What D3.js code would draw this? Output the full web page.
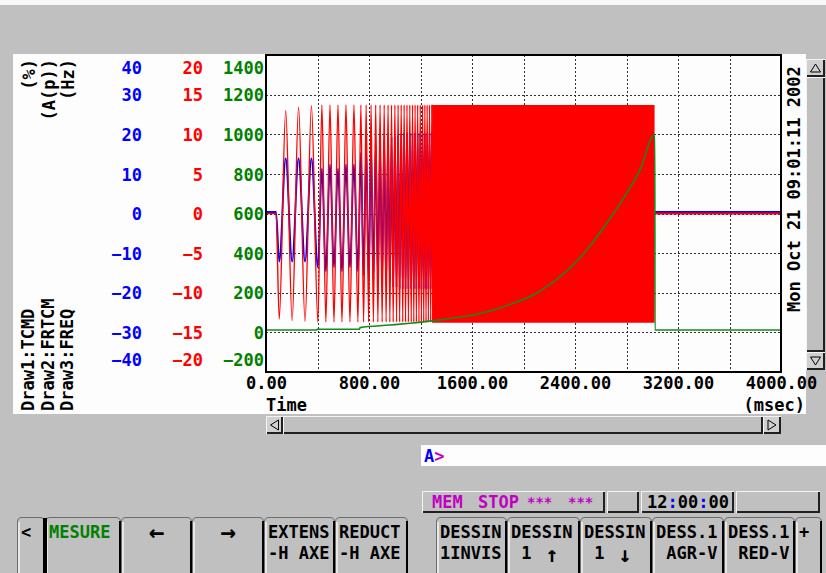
<!DOCTYPE html>
<html>
<head>
<meta charset="utf-8">
<script src="https://cdn.jsdelivr.net/npm/d3@7"></script>
<style>
  html, body { margin: 0; padding: 0; background: #c0c0c0; }
  svg { display: block; }
  text { font-family: "DejaVu Sans Mono", monospace; font-weight: bold; white-space: pre; }
</style>
</head>
<body>
<svg id="screen" width="826" height="573"></svg>
<script>
// ---------------- chart values ----------------
const timeTicks  = [0, 800, 1600, 2400, 3200, 4000];          // msec
const tcmdTicks  = [-40, -30, -20, -10, 0, 10, 20, 30, 40];    // %
const frtcmTicks = [-20, -15, -10, -5, 0, 5, 10, 15, 20];      // A(p)
const freqTicks  = [-200, 0, 200, 400, 600, 800, 1000, 1200, 1400]; // Hz
const channelNames = ["Draw1:TCMD", "Draw2:FRTCM", "Draw3:FREQ"];
const channelUnits = ["(%)", "(A(p))", "(Hz)"];
const stampText = "Mon Oct 21 09:01:11 2002";

// Draw3: sweep frequency (msec, Hz)
const freqTime = [0, 394, 398, 726, 730, 963, 1118, 1351, 1481, 1610, 1765, 1921, 2076, 2180, 2283, 2491, 2646, 2801, 2905, 3020, 3021, 4000];
const freqHz   = [12, 12, 16, 16, 24, 37, 46, 63, 76, 88, 113, 147, 189, 231, 280, 416, 551, 702, 820, 1000, 12, 12];

// Draw1 / Draw2: oscillation turning points while the cycles are still resolved (msec)
const cycleTime = [103, 153, 203, 253, 303, 353, 403, 434, 465, 497, 528, 559, 590, 621, 652, 683, 714,
  737, 758, 778, 797, 816, 834, 852, 869, 886, 902, 918, 933, 948, 962, 975, 988, 1001,
  1014, 1026, 1038, 1050, 1062, 1073, 1084, 1095, 1106, 1117, 1128, 1138, 1148, 1158, 1168, 1178,
  1188, 1198, 1207, 1216, 1225, 1234, 1243, 1252, 1261, 1270, 1279, 1288, 1297];
const tcmdPeak = [-12.5, 13.5, -12.5, 13.5, -12.5, 13.5,
  -14, 11, -15, 12, -14, 11, -15, 12, -14, 12, -15,
  15, -16, 16, -17, 16, -17, 17, -17, 17, -18, 18, -18, 18, -18, 19, -19, 19,
  -19, 19.5, -19.5, 20, -19.5, 20, -19.5, 20, -19.5, 20, -19.5, 20, -19.5, 20, -19.5, 20,
  -19.5, 20, -19.5, 20, -19.5, 20, -19.5, 20, -19.5, 20, -19.5, 20, -19.5];
const frtcmPeak = [-13.3, 13.0, -13.5, 13.4, -13.6, 13.6,
  -13.7, 13.7, -13.7, 13.7, -13.7, 13.7, -13.7, 13.7, -13.7, 13.7, -13.7,
  13.7, -13.7, 13.7, -13.7, 13.7, -13.7, 13.7, -13.7, 13.7, -13.7, 13.7, -13.7, 13.7, -13.7, 13.7, -13.7, 13.7,
  -13.7, 13.7, -13.7, 13.7, -13.7, 13.7, -13.7, 13.7, -13.7, 13.7, -13.7, 13.7, -13.7, 13.7, -13.7, 13.7,
  -13.7, 13.7, -13.7, 13.7, -13.7, 13.7, -13.7, 13.7, -13.7, 13.7, -13.7, 13.7, -13.7];
// quiet segments before and after the sweep (msec)
const sweepStart = 78, sweepEnd = 3018, recordEnd = 4000;
// Draw2 saturated band once the cycles merge (msec, A(p))
const bandTime = [1290, 3018];
const bandMax  = [13.7, 13.7];
const bandMin  = [-13.8, -13.8];

// soft keys
const leftKeys  = [["<"], ["MESURE"], ["←"], ["→"], ["EXTENS", "-H AXE"], ["REDUCT", "-H AXE"]];
const rightKeys = [["DESSIN", "1INVIS"], ["DESSIN", " 1 ↑"], ["DESSIN", " 1 ↓"], ["DESS.1", " AGR-V"], ["DESS.1", " RED-V"], ["+"]];

// ---------------- layout ----------------
const W = 826, H = 573;
const P = { l: 266, r: 781, t: 55, b: 372 };
const FONT = 17;
const CHAR = FONT * 0.602;
const leftKeyEdges  = [17, 45, 121, 192, 264, 335, 408];
const rightKeyEdges = [436, 507, 580, 652, 724, 795, 822];

const svg = d3.select("#screen");

// screen background and graph panel
svg.append("rect").attr("width", W).attr("height", H).attr("fill", "#c0c0c0");
svg.append("rect").attr("width", W).attr("height", 5).attr("fill", "#f7f7f7");
svg.append("rect").attr("x", 13).attr("y", 54).attr("width", 793).attr("height", 360).attr("fill", "#fdfdfd");

// scales
const x      = d3.scaleLinear().domain([0, 4000]).range([P.l, P.r]);
const yTcmd  = d3.scaleLinear().domain([-40, 40]).range([P.b, P.t]);
const yFrtcm = d3.scaleLinear().domain([-20, 20]).range([P.b, P.t]);
const yFreq  = d3.scaleLinear().domain([-200, 1400]).range([P.b, P.t]);

svg.append("defs").append("clipPath").attr("id", "plotClip")
  .append("rect").attr("x", P.l).attr("y", P.t).attr("width", P.r - P.l).attr("height", P.b - P.t);

// dotted grid
const grid = svg.append("g").attr("stroke", "#303030").attr("stroke-width", 1).attr("stroke-dasharray", "2,2");
grid.selectAll("line.v").data(d3.range(400, 4000, 400)).join("line").attr("class", "v")
  .attr("x1", d => Math.round(x(d)) + 0.5).attr("x2", d => Math.round(x(d)) + 0.5)
  .attr("y1", P.t).attr("y2", P.b);
grid.selectAll("line.h").data(freqTicks.slice(1, -1)).join("line").attr("class", "h")
  .attr("y1", d => Math.round(yFreq(d)) + 0.5).attr("y2", d => Math.round(yFreq(d)) + 0.5)
  .attr("x1", P.l).attr("x2", P.r);

// traces
const traces = svg.append("g").attr("clip-path", "url(#plotClip)");

// resolved part of the sweep: quiet start followed by the turning points
const sweepPoints = peaks => [[0, 0], [sweepStart, 0]].concat(cycleTime.map((t, i) => [t, peaks[i]]));
// quiet tail after the sweep stops
const tailPoints = [[sweepEnd, 0], [recordEnd, 0]];

function drawTrace(points, yScale, color, width, shift) {
  traces.append("path")
    .datum(points)
    .attr("d", d3.line().curve(d3.curveMonotoneX).x(d => x(d[0])).y(d => yScale(d[1])))
    .attr("transform", `translate(0,${shift})`)
    .attr("fill", "none").attr("stroke", color).attr("stroke-width", width)
    .attr("stroke-linejoin", "round");
}

// Draw1 TCMD
drawTrace(sweepPoints(tcmdPeak), yTcmd, "#0000ff", 1.8, -1.5);
drawTrace(tailPoints, yTcmd, "#0000ff", 1.8, -1.5);

// Draw2 FRTCM
traces.append("path")
  .datum(bandTime.map((t, i) => [t, bandMin[i], bandMax[i]]))
  .attr("d", d3.area().x(d => x(d[0])).y0(d => yFrtcm(d[1])).y1(d => yFrtcm(d[2])))
  .attr("fill", "#ff0000");
drawTrace(sweepPoints(frtcmPeak), yFrtcm, "#ff0000", 1.4, 0);
drawTrace(tailPoints, yFrtcm, "#ff0000", 1.8, 0);

// Draw3 FREQ
traces.append("path")
  .datum(freqTime.map((t, i) => [t, freqHz[i]]))
  .attr("d", d3.line().curve(d3.curveMonotoneX).x(d => x(d[0])).y(d => yFreq(d[1])))
  .attr("fill", "none").attr("stroke", "#14891e").attr("stroke-width", 1.6);

// plot frame
svg.append("rect").attr("x", P.l).attr("y", P.t).attr("width", P.r - P.l).attr("height", P.b - P.t)
  .attr("fill", "none").attr("stroke", "#000").attr("stroke-width", 2);

// axes
function styleAxis(g, color) {
  g.attr("font-family", "DejaVu Sans Mono").attr("font-size", FONT).attr("font-weight", "bold");
  g.select(".domain").remove();
  g.selectAll(".tick line").remove();
  g.selectAll("text").attr("fill", color);
}
const gx = svg.append("g").attr("transform", `translate(0,${P.b + 11})`)
  .call(d3.axisBottom(x).tickValues(timeTicks).tickFormat(d3.format(".2f")).tickSize(0).tickPadding(0));
styleAxis(gx, "#000");
gx.selectAll("text").attr("y", 0).attr("dy", "0.36em");

function leftAxis(scale, ticks, xPos, color) {
  const g = svg.append("g").attr("transform", `translate(${xPos},0)`)
    .call(d3.axisLeft(scale).tickValues(ticks).tickFormat(d3.format("d")).tickSize(0).tickPadding(0));
  styleAxis(g, color);
  const lo = ticks[0], hi = ticks[ticks.length - 1];
  g.selectAll("text").attr("x", 0).attr("dy", "0.36em")
    .attr("y", d => d === hi ? 12 : d === lo ? -13 : 0);
}
leftAxis(yTcmd, tcmdTicks, 142, "#0000ff");
leftAxis(yFrtcm, frtcmTicks, 203, "#ff0000");
leftAxis(yFreq, freqTicks, 264, "#008000");

// axis captions
svg.append("text").attr("x", P.l).attr("y", 405).attr("font-size", FONT).attr("dy", "0.36em").text("Time");
svg.append("text").attr("x", 805).attr("y", 405).attr("font-size", FONT).attr("dy", "0.36em")
  .attr("text-anchor", "end").text("(msec)");

const unitX = [29, 49, 68];
svg.append("g").selectAll("text").data(channelUnits).join("text")
  .attr("transform", (d, i) => `translate(${unitX[i]},59) rotate(-90)`)
  .attr("text-anchor", "end").attr("dy", "0.36em").attr("font-size", FONT).text(d => d);
svg.append("g").selectAll("text").data(channelNames).join("text")
  .attr("transform", (d, i) => `translate(${unitX[i] - 1},411) rotate(-90)`)
  .attr("text-anchor", "start").attr("dy", "0.36em").attr("font-size", FONT).text(d => d);
svg.append("text").attr("transform", "translate(794,312) rotate(-90)")
  .attr("dy", "0.36em").attr("font-size", FONT).text(stampText);

// ---------------- screen furniture ----------------
function bevel(x0, y0, w, h, fill) {
  const g = svg.append("g");
  g.append("rect").attr("x", x0).attr("y", y0).attr("width", w).attr("height", h).attr("fill", fill);
  g.append("path").attr("d", `M${x0 + 0.5},${y0 + h} V${y0 + 0.5} H${x0 + w}`)
    .attr("fill", "none").attr("stroke", "#f4f4f4").attr("stroke-width", 1);
  g.append("path").attr("d", `M${x0 + 1},${y0 + h - 1} H${x0 + w - 1} V${y0 + 1}`)
    .attr("fill", "none").attr("stroke", "#202020").attr("stroke-width", 2);
  return g;
}
function triangle(cx, cy, dir) {
  const s = 5;
  let d;
  if (dir === "up") d = `M${cx - s},${cy + s * 0.8} L${cx},${cy - s * 0.8} L${cx + s},${cy + s * 0.8} Z`;
  if (dir === "down") d = `M${cx - s},${cy - s * 0.8} L${cx},${cy + s * 0.8} L${cx + s},${cy - s * 0.8} Z`;
  if (dir === "left") d = `M${cx + s * 0.8},${cy - s} L${cx - s * 0.8},${cy} L${cx + s * 0.8},${cy + s} Z`;
  if (dir === "right") d = `M${cx - s * 0.8},${cy - s} L${cx + s * 0.8},${cy} L${cx - s * 0.8},${cy + s} Z`;
  svg.append("path").attr("d", d).attr("fill", "none").attr("stroke", "#000").attr("stroke-width", 1);
}

// vertical scroll bar
bevel(806, 59, 19, 18, "#d0d0d0"); triangle(815.5, 68, "up");
bevel(806, 77, 19, 275, "#c0c0c0");
bevel(806, 352, 19, 18, "#d0d0d0"); triangle(815.5, 361, "down");

// horizontal scroll bar
bevel(266, 416, 17, 18, "#d0d0d0"); triangle(274.5, 425, "left");
bevel(283, 416, 480, 18, "#c0c0c0");
bevel(763, 416, 18, 18, "#d0d0d0"); triangle(772, 425, "right");

// key-in line
svg.append("rect").attr("x", 421).attr("y", 445).attr("width", 405).attr("height", 21).attr("fill", "#fdfdfd");
const keyIn = svg.append("text").attr("x", 424).attr("y", 456).attr("dy", "0.36em").attr("font-size", FONT);
keyIn.append("tspan").attr("fill", "#0000ff").text("A");
keyIn.append("tspan").attr("fill", "#c000c0").text(">");

// status line
bevel(422, 491, 183, 22, "#c0c0c0");
bevel(607, 491, 32, 22, "#c0c0c0");
bevel(641, 491, 93, 22, "#c0c0c0");
bevel(736, 491, 84, 22, "#c0c0c0");
const statusY = 502;
[["MEM", 432], ["STOP", 478]].forEach(([s, px]) =>
  svg.append("text").attr("x", px).attr("y", statusY).attr("dy", "0.36em").attr("font-size", FONT)
    .attr("fill", "#c000c0").text(s));
[527, 568].forEach(px =>
  svg.append("text").attr("x", px).attr("y", statusY).attr("dy", "0.36em").attr("font-size", 14)
    .attr("font-weight", "normal").attr("fill", "#c000c0").text("***"));
const clock = svg.append("text").attr("x", 647).attr("y", statusY).attr("dy", "0.36em").attr("font-size", FONT);
["12", ":", "00", ":", "00"].forEach(s =>
  clock.append("tspan").attr("fill", s === ":" ? "#0000ff" : "#000").text(s));

// soft keys
const ARROWS = "←→↑↓";
function drawKeys(labels, edges, firstColor) {
  labels.forEach((lines, i) => {
    const x0 = edges[i], x1 = edges[i + 1];
    const g = svg.append("g");
    g.append("path")
      .attr("d", `M${x0 + 0.5},${H} V${522} Q${x0 + 0.5},${517.5} ${x0 + 5},${517.5} H${x1 - 5} Q${x1 - 0.5},${517.5} ${x1 - 0.5},${522} V${H}`)
      .attr("fill", "#c0c0c0").attr("stroke", "#6c6c6c").attr("stroke-width", 1);
    g.append("line").attr("x1", x0 + 2).attr("x2", x0 + 2).attr("y1", 522).attr("y2", H)
      .attr("stroke", "#f4f4f4").attr("stroke-width", 1.5);
    g.append("line").attr("x1", x1 - 1).attr("x2", x1 - 1).attr("y1", 521).attr("y2", H)
      .attr("stroke", "#000").attr("stroke-width", 2);
    const color = i === 1 && firstColor ? firstColor : "#000";
    lines.forEach((s, j) => {
      const yRow = j === 0 ? 532 : 553;
      if (s.length === 1 && ARROWS.includes(s)) {
        // lone horizontal arrow keys
        g.append("text").attr("x", (x0 + x1) / 2).attr("y", yRow).attr("dy", "0.36em")
          .attr("text-anchor", "middle").attr("font-family", "DejaVu Sans").attr("font-weight", "normal")
          .attr("font-size", 26).attr("fill", color).text(s);
        return;
      }
      const k = [...s].findIndex(ch => ARROWS.includes(ch));
      const plain = k < 0 ? s : s.slice(0, k).trimEnd();
      g.append("text").attr("x", x0 + 4).attr("y", yRow).attr("dy", "0.36em")
        .attr("font-size", FONT).attr("fill", color).text(plain);
      if (k >= 0) {
        g.append("text").attr("x", x0 + 4 + (k + 0.5) * CHAR + 5).attr("y", yRow + 1).attr("dy", "0.36em")
          .attr("text-anchor", "middle").attr("font-family", "DejaVu Sans").attr("font-weight", "normal")
          .attr("font-size", 22).attr("fill", color).text(s[k]);
      }
    });
  });
}
drawKeys(leftKeys, leftKeyEdges, "#008000");
drawKeys(rightKeys, rightKeyEdges, null);
// heavy divider after the first key
svg.append("rect").attr("x", 43).attr("y", 518).attr("width", 4).attr("height", H - 518).attr("fill", "#000");
</script>
</body>
</html>
